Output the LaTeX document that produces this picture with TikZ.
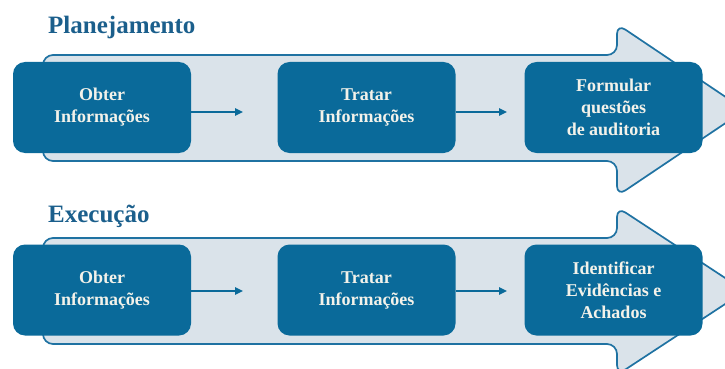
\documentclass[tikz,border=0pt]{standalone}
\usepackage{fontspec}
\setmainfont{Liberation Serif}
\usetikzlibrary{arrows.meta}
\definecolor{boxblue}{HTML}{0A6A9A}
\definecolor{titleblue}{HTML}{1B5F8C}
\definecolor{bandfill}{HTML}{DAE3EA}
\definecolor{bandline}{HTML}{1F72A2}
\definecolor{boxtext}{HTML}{F3F2EA}
\tikzset{
  band/.style={draw=bandline, fill=bandfill, line width=1.7pt, rounded corners=10pt},
  stepbox/.style={fill=boxblue, rounded corners=12pt, minimum width=178pt, minimum height=91pt,
    inner sep=0pt, text=boxtext, align=center, font=\bfseries\fontsize{18}{22}\selectfont},
  flow/.style={draw=boxblue, line width=1.6pt, -{Triangle[length=8pt,width=7.5pt]}},
  phase/.style={anchor=base west, inner sep=0pt, text=titleblue, font=\bfseries\fontsize{25}{30}\selectfont}
}
\begin{document}
\begin{tikzpicture}[x=1pt,y=-1pt]
\useasboundingbox (0,0) rectangle (725,369);

% Planejamento
\node[phase] (tplan) at (48,34) {Planejamento};
\draw[band] (43,55) -- (617,55) -- (617,24) -- (745,110) -- (617,196) -- (617,161) -- (43,161) -- cycle;
\node[stepbox] (p1) at (102,107.5) {Obter\\Informações};
\node[stepbox] (p2) at (366.5,107.5) {Tratar\\Informações};
\node[stepbox] (p3) at (613.5,107.5) {Formular\\questões\\de auditoria};
\coordinate (pa1) at (243,112);
\coordinate (pa2) at (507,112);
\draw[flow] (p1.east |- pa1) -- (pa1);
\draw[flow] (p2.east |- pa2) -- (pa2);

% Execução
\node[phase] (texec) at (48,222) {Execução};
\draw[band] (43,238) -- (617,238) -- (617,207) -- (745,291) -- (617,375) -- (617,344) -- (43,344) -- cycle;
\node[stepbox] (e1) at (102,290) {Obter\\Informações};
\node[stepbox] (e2) at (366.5,290) {Tratar\\Informações};
\node[stepbox] (e3) at (613.5,290) {Identificar\\Evidências e\\Achados};
\coordinate (ea1) at (243,291);
\coordinate (ea2) at (507,291);
\draw[flow] (e1.east |- ea1) -- (ea1);
\draw[flow] (e2.east |- ea2) -- (ea2);
\end{tikzpicture}
\end{document}
